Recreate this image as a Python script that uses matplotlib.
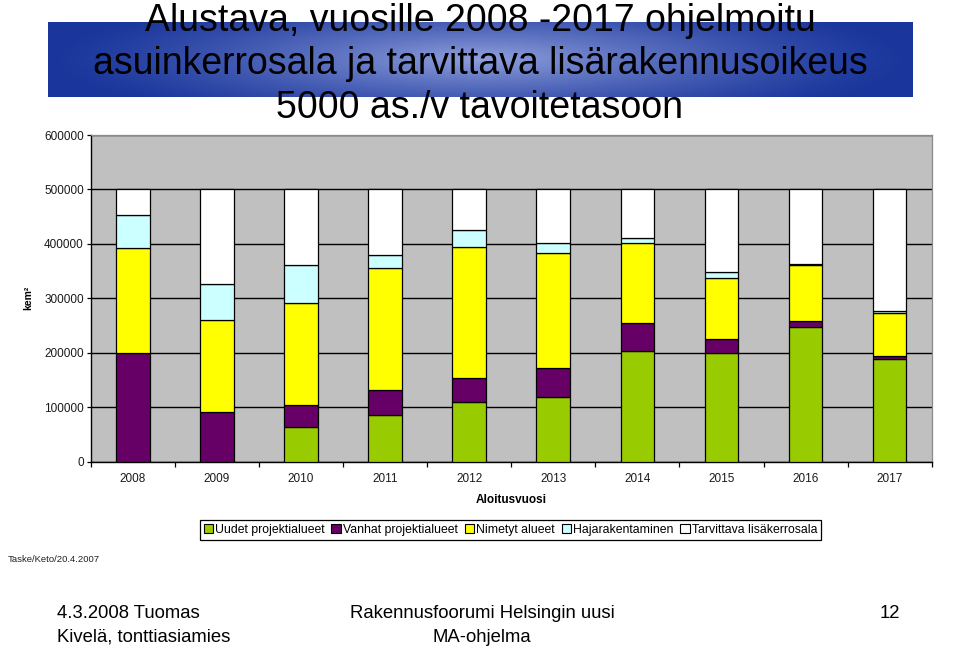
import numpy as np
import matplotlib
matplotlib.use("Agg")
import matplotlib.pyplot as plt
from matplotlib.patches import Patch

plt.rcParams['font.family'] = ['Liberation Sans', 'DejaVu Sans']

years = ['2008', '2009', '2010', '2011', '2012', '2013', '2014', '2015', '2016', '2017']
series_names = ['Uudet projektialueet', 'Vanhat projektialueet', 'Nimetyt alueet',
                'Hajarakentaminen', 'Tarvittava lisäkerrosala']
uudet = [0, 0, 63000, 85000, 109000, 119000, 204000, 199000, 248000, 189000]
vanhat = [199000, 91000, 41000, 47000, 44000, 53000, 51000, 27000, 10000, 6000]
nimetyt = [193000, 169000, 187000, 223000, 241000, 211000, 146000, 112000, 103000, 79000]
haja = [60500, 66000, 70000, 25000, 32000, 18000, 10000, 10000, 1500, 2000]
tarvittava = [47500, 174000, 139000, 120000, 74000, 99000, 89000, 152000, 137500, 224000]
colors = ['#99CC00', '#660066', '#FFFF00', '#CCFFFF', '#FFFFFF']
yticks = [0, 100000, 200000, 300000, 400000, 500000, 600000]

W, H = 960, 648
fig = plt.figure(figsize=(9.6, 6.48), dpi=100)

def fx(px):
    return px / W

def fy(py):
    return 1 - py / H

# Title banner with gradient
bx0, bx1, by0, by1 = 48, 912, 22, 97.5
axb = fig.add_axes([fx(bx0), fy(by1), fx(bx1 - bx0), (by1 - by0) / H])
gx = np.linspace(-1, 1, 400)
gy = np.linspace(-1, 1, 80)
X, Y = np.meshgrid(gx, gy)
r = np.clip(np.sqrt(X**2 + (Y * 0.55)**2), 0, 1)
t = (1 - r) ** 1.3
dark = np.array([0x1a, 0x36, 0x9c]) / 255
light = np.array([0x90, 0xa0, 0xdc]) / 255
img = dark[None, None, :] * (1 - t[..., None]) + light[None, None, :] * t[..., None]
axb.imshow(img, aspect='auto', extent=[0, 1, 0, 1])
axb.axis('off')

title_lines = ['Alustava, vuosille 2008 -2017 ohjelmoitu',
               'asuinkerrosala ja tarvittava lisärakennusoikeus',
               '5000 as./v tavoitetasoon']
for line, base in zip(title_lines, [31, 74, 118]):
    fig.text(0.5, fy(base), line, ha='center', va='baseline', fontsize=27, color='black')

# Main chart
ax = fig.add_axes([fx(90.7), fy(461.7), fx(841), 326.7 / H])
ax.set_facecolor('#C0C0C0')
x = np.arange(len(years))
bottom = np.zeros(len(years))
for vals, col, name in zip([uudet, vanhat, nimetyt, haja, tarvittava], colors, series_names):
    v = np.array(vals, dtype=float)
    ax.bar(x, v, width=0.4, bottom=bottom, color=col, edgecolor='black', linewidth=0.9,
           label=name, zorder=3)
    bottom += v

ax.set_xlim(-0.5, len(years) - 0.5)
ax.set_ylim(0, 600000)
ax.set_yticks(yticks)
ax.set_yticklabels([str(v) for v in yticks], fontsize=8.5, color='#1a1a1a')
ax.set_xticks(x)
ax.set_xticklabels(years, fontsize=8.5, color='#1a1a1a')
ax.set_xticks(np.arange(-0.5, len(years)), minor=True)
ax.tick_params(axis='x', which='major', length=0, pad=8)
ax.tick_params(axis='x', which='minor', length=3.6, direction='out', width=0.9)
ax.tick_params(axis='y', length=3, direction='out', width=0.9, pad=2)
ax.grid(axis='y', color='black', linewidth=1.0, zorder=1)
ax.set_axisbelow(True)
for s in ['left', 'bottom']:
    ax.spines[s].set_color('black')
    ax.spines[s].set_linewidth(1.0)
for s in ['top', 'right']:
    ax.spines[s].set_color('#8a8a8a')
    ax.spines[s].set_linewidth(0.9)

fig.text(fx(28), fy(298), 'kem²', rotation=90, ha='center', va='center',
         fontsize=7.5, fontweight='bold')
fig.text(fx(511), fy(500), 'Aloitusvuosi', ha='center', va='center',
         fontsize=8.5, fontweight='bold')

handles = [Patch(facecolor=c, edgecolor='black', linewidth=0.8) for c in colors]
leg = fig.legend(handles, series_names, loc='center', bbox_to_anchor=(fx(510.5), fy(530)),
                 ncol=5, fontsize=8.8, frameon=True, fancybox=False, edgecolor='black',
                 framealpha=1, handlelength=0.75, handleheight=0.75, handletextpad=0.2,
                 columnspacing=0.55, borderpad=0.3, borderaxespad=0)
leg.get_frame().set_linewidth(0.9)

fig.text(fx(8), fy(559), 'Taske/Keto/20.4.2007', ha='left', va='center', fontsize=6.8,
         color='#222222')

fig.text(fx(57), fy(614), '4.3.2008 Tuomas', ha='left', va='center', fontsize=13.3)
fig.text(fx(57), fy(637), 'Kivelä, tonttiasiamies', ha='left', va='center', fontsize=13.3)
fig.text(fx(482), fy(614), 'Rakennusfoorumi Helsingin uusi', ha='center', va='center', fontsize=13.3)
fig.text(fx(482), fy(637), 'MA-ohjelma', ha='center', va='center', fontsize=13.3)
fig.text(fx(890), fy(614), '12', ha='center', va='center', fontsize=13.3)

fig.savefig('out.png', dpi=100)
